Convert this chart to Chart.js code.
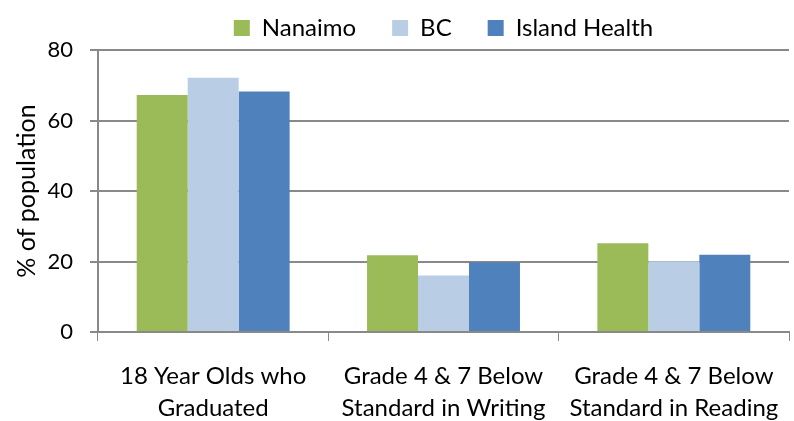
<!DOCTYPE html>
<html>
<head>
<title>Education indicators</title>
<script src="https://cdn.jsdelivr.net/npm/chart.js@4/dist/chart.umd.min.js"></script>
<style>
  body { margin: 0; background: #fff; }
  #wrap { width: 794px; height: 421px; }
</style>
</head>
<body>
<div id="wrap"><canvas id="chart"></canvas></div>

<script>
const CATEGORIES = [
    ['18 Year Olds who', 'Graduated'],
    ['Grade 4 & 7 Below', 'Standard in Writing'],
    ['Grade 4 & 7 Below', 'Standard in Reading']
];
const NANAIMO = [67.2, 21.8, 25.2];
const BC = [72.1, 16.0, 20.1];
const ISLAND_HEALTH = [68.2, 19.8, 21.9];
const Y_TICKS = [0, 20, 40, 60, 80];

const FONT = 'Lato, "Liberation Sans", sans-serif';
const AXIS = '#898989';

const ctx = document.getElementById('chart').getContext('2d');
new Chart(ctx, {
    type: 'bar',
    data: {
        labels: CATEGORIES,
        datasets: [
            { label: 'Nanaimo', data: NANAIMO, backgroundColor: '#9BBB59' },
            { label: 'BC', data: BC, backgroundColor: '#B9CDE5' },
            { label: 'Island Health', data: ISLAND_HEALTH, backgroundColor: '#4F81BD' }
        ]
    },
    options: {
        responsive: true,
        maintainAspectRatio: false,
        animation: false,
        datasets: {
            bar: { categoryPercentage: 0.664, barPercentage: 1.0, borderWidth: 0 }
        },
        // legend height = font + padding + 10, so a negative top keeps the plot at y=50
        layout: { padding: { left: 0, right: 5, top: -20, bottom: 0 } },
        plugins: {
            tooltip: { enabled: false },
            legend: {
                position: 'top',
                fullSize: false,
                labels: {
                    boxWidth: 16,
                    boxHeight: 16,
                    padding: 36,
                    color: '#000',
                    font: { family: FONT, size: 24 }
                }
            }
        },
        scales: {
            x: {
                grid: {
                    offset: true,
                    drawOnChartArea: false,
                    color: AXIS,
                    tickLength: 9
                },
                border: { color: AXIS, width: 2 },
                ticks: {
                    color: '#000',
                    maxRotation: 0,
                    padding: 20,
                    font: { family: FONT, size: 24, lineHeight: 1.3 }
                },
                afterFit: function (scale) {
                    scale.height = 89;
                    scale.paddingLeft = 0;
                    scale.paddingRight = 0;
                }
            },
            y: {
                min: 0,
                max: 80,
                afterBuildTicks: function (scale) {
                    scale.ticks = Y_TICKS.map(v => ({ value: v }));
                },
                grid: {
                    color: AXIS,
                    lineWidth: 2,
                    tickLength: 8
                },
                border: { color: AXIS, width: 2 },
                ticks: {
                    color: '#000',
                    padding: 17,
                    font: { family: FONT, size: 22 }
                },
                title: {
                    display: true,
                    text: '% of population',
                    color: '#000',
                    padding: { top: 12, bottom: 0 },
                    font: { family: FONT, size: 25 }
                },
                afterFit: function (scale) { scale.width = 98; }
            }
        }
    }
});
</script>
</body>
</html>
